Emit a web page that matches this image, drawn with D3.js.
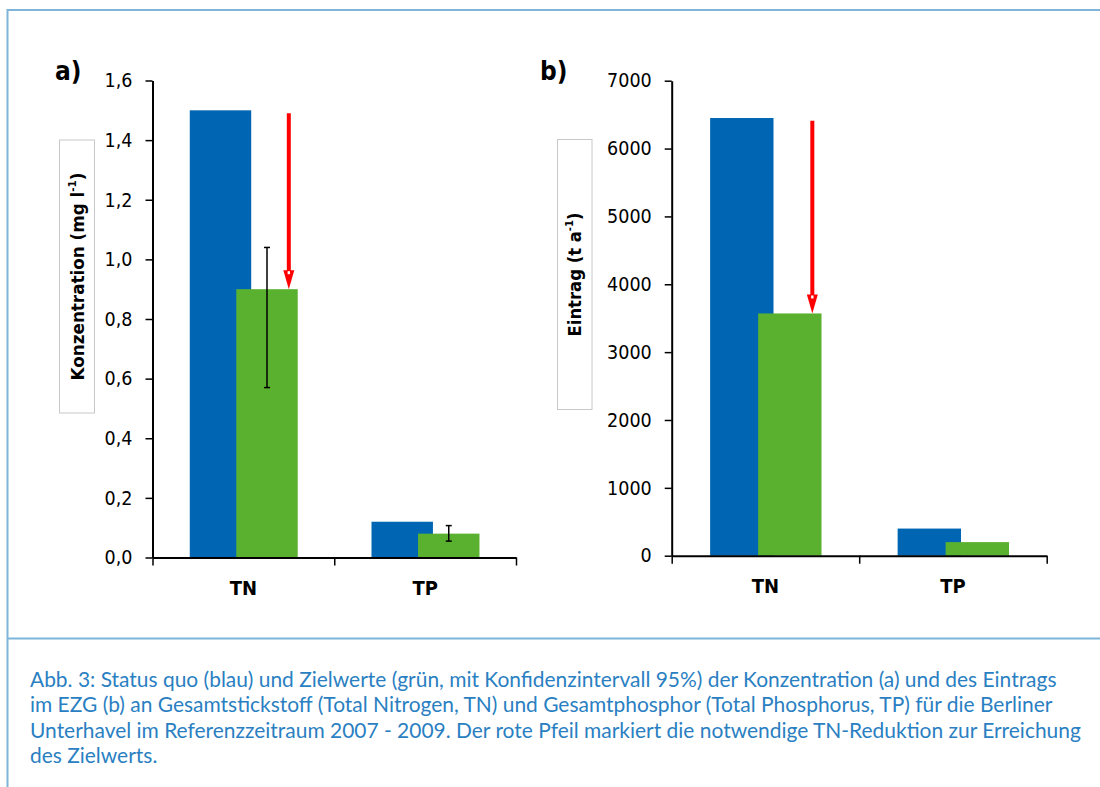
<!DOCTYPE html>
<html>
<head>
<meta charset="utf-8">
<script src="https://cdn.jsdelivr.net/npm/d3@7"></script>
<style>
  html, body { margin: 0; padding: 0; background: #fff; }
  svg { display: block; }
</style>
</head>
<body>
<svg width="1100" height="787"></svg>
<script>
const svg_width = 1100;
const svg_height = 787;

// data
const categories = ["TN", "TP"];
const konz_status = [1.5, 0.12];
const konz_ziel = [0.9, 0.08];
const konz_ci_low = [0.57, 0.055];
const konz_ci_high = [1.04, 0.107];
const konz_ticks = [0, 0.2, 0.4, 0.6, 0.8, 1.0, 1.2, 1.4, 1.6];
const konz_arrow_from = 1.49;

const eintrag_status = [6450, 400];
const eintrag_ziel = [3570, 200];
const eintrag_ticks = [0, 1000, 2000, 3000, 4000, 5000, 6000, 7000];
const eintrag_arrow_from = 6410;

const caption_lines = [
  "Abb. 3: Status quo (blau) und Zielwerte (grün, mit Konfidenzintervall 95%) der Konzentration (a) und des Eintrags",
  "im EZG (b) an Gesamtstickstoff (Total Nitrogen, TN) und Gesamtphosphor (Total Phosphorus, TP) für die Berliner",
  "Unterhavel im Referenzzeitraum 2007 - 2009. Der rote Pfeil markiert die notwendige TN-Reduktion zur Erreichung",
  "des Zielwerts."
];

const blue = "#0066b3";
const green = "#5ab12f";
const red = "#ff0000";
const frame_color = "#7db6da";
const caption_color = "#2a7fc2";
const font = "DejaVu Sans";

const svg = d3.select("svg");

// comma as decimal sign
const de = d3.formatLocale({ decimal: ",", thousands: ".", grouping: [3], currency: ["", "€"] });

// frame round the figure
svg.append("line").attr("x1", 7).attr("x2", svg_width).attr("y1", 10).attr("y2", 10)
  .attr("stroke", frame_color).attr("stroke-width", 2);
svg.append("line").attr("x1", 7.5).attr("x2", 7.5).attr("y1", 9).attr("y2", svg_height)
  .attr("stroke", frame_color).attr("stroke-width", 2);
svg.append("line").attr("x1", 7).attr("x2", svg_width).attr("y1", 638.5).attr("y2", 638.5)
  .attr("stroke", frame_color).attr("stroke-width", 2);

const panels = [
  {
    tag: "a)", tag_x: 55, tag_y: 80,
    left: 152.5, right: 516, bottom: 557.5, top: 80.5,
    max: 1.6, ticks: konz_ticks, fmt: de.format(".1f"),
    status: konz_status, ziel: konz_ziel, ci_low: konz_ci_low, ci_high: konz_ci_high,
    arrow_from: konz_arrow_from,
    label: "Konzentration (mg l", label_sup: "-1", title_len: 208,
    box: { x: 59.5, y: 140, w: 35, h: 273 }
  },
  {
    tag: "b)", tag_x: 540, tag_y: 80,
    left: 671.7, right: 1046.7, bottom: 555.7, top: 80.7,
    max: 7000, ticks: eintrag_ticks, fmt: d3.format("d"),
    status: eintrag_status, ziel: eintrag_ziel, ci_low: null, ci_high: null,
    arrow_from: eintrag_arrow_from,
    label: "Eintrag (t a", label_sup: "-1", title_len: 124,
    box: { x: 557.5, y: 139.5, w: 34.5, h: 270 }
  }
];

panels.forEach(function (p) {
  const g = svg.append("g");

  const y = d3.scaleLinear().domain([0, p.max]).range([p.bottom, p.top]);
  const x = d3.scaleBand().domain(categories).range([p.left, p.right]).padding(0);
  const bw = x.bandwidth();

  // bars overlap like in the spreadsheet original
  const bar_start = 0.205, bar_width = 0.338, green_offset = 0.256;

  g.selectAll(".status").data(categories).enter().append("rect")
    .attr("class", "status")
    .attr("x", (d) => x(d) + bw * bar_start)
    .attr("width", bw * bar_width)
    .attr("y", (d, i) => y(p.status[i]))
    .attr("height", (d, i) => y(0) - y(p.status[i]))
    .attr("fill", blue);

  g.selectAll(".ziel").data(categories).enter().append("rect")
    .attr("class", "ziel")
    .attr("x", (d) => x(d) + bw * (bar_start + green_offset))
    .attr("width", bw * bar_width)
    .attr("y", (d, i) => y(p.ziel[i]))
    .attr("height", (d, i) => y(0) - y(p.ziel[i]))
    .attr("fill", green);

  // confidence interval on the target values
  if (p.ci_low) {
    const cx = (d) => x(d) + bw * (bar_start + green_offset + bar_width / 2);
    const err = g.selectAll(".err").data(categories).enter().append("g").attr("class", "err");
    err.append("line")
      .attr("x1", cx).attr("x2", cx)
      .attr("y1", (d, i) => y(p.ci_low[i])).attr("y2", (d, i) => y(p.ci_high[i]));
    err.append("line")
      .attr("x1", (d) => cx(d) - 3).attr("x2", (d) => cx(d) + 3)
      .attr("y1", (d, i) => y(p.ci_low[i])).attr("y2", (d, i) => y(p.ci_low[i]));
    err.append("line")
      .attr("x1", (d) => cx(d) - 3).attr("x2", (d) => cx(d) + 3)
      .attr("y1", (d, i) => y(p.ci_high[i])).attr("y2", (d, i) => y(p.ci_high[i]));
    err.selectAll("line").attr("stroke", "#000").attr("stroke-width", 1.5);
  }

  // red arrow from status quo down to the TN target
  const ax = x("TN") + bw * 0.75;
  const tip = y(p.ziel[0]);
  const head_h = 19, head_w = 11;
  g.append("line")
    .attr("x1", ax).attr("x2", ax)
    .attr("y1", y(p.arrow_from)).attr("y2", tip - head_h + 1)
    .attr("stroke", red).attr("stroke-width", 4);
  g.append("path")
    .attr("d", `M ${ax - head_w / 2} ${tip - head_h} L ${ax + head_w / 2} ${tip - head_h} L ${ax} ${tip} Z`)
    .attr("fill", red);
  g.append("rect")
    .attr("x", ax - 1.2).attr("y", tip - head_h + 1).attr("width", 2.4).attr("height", 3)
    .attr("fill", "#fff");

  // y axis
  const y_axis = g.append("g")
    .attr("transform", `translate(${p.left},0)`)
    .call(d3.axisLeft(y).tickValues(p.ticks).tickFormat(p.fmt).tickSize(7).tickSizeOuter(0).tickPadding(13));
  y_axis.select(".domain").attr("stroke", "#000").attr("stroke-width", 2);
  y_axis.selectAll(".tick line").attr("stroke", "#000").attr("stroke-width", 1.5);
  y_axis.selectAll(".tick text")
    .style("font-family", font).style("font-stretch", "condensed").style("font-size", "19.5px").attr("fill", "#000");

  // x axis: ticks sit on the category boundaries
  const x_lin = d3.scaleLinear().domain([0, categories.length]).range([p.left, p.right]);
  const x_axis = g.append("g")
    .attr("transform", `translate(0,${p.bottom})`)
    .call(d3.axisBottom(x_lin).tickValues(d3.range(categories.length + 1)).tickFormat("").tickSize(8).tickSizeOuter(0));
  x_axis.select(".domain").attr("stroke", "#000").attr("stroke-width", 2);
  x_axis.selectAll(".tick line").attr("stroke", "#000").attr("stroke-width", 1.5);

  g.selectAll(".cat").data(categories).enter().append("text")
    .attr("class", "cat")
    .attr("x", (d) => x(d) + bw / 2)
    .attr("y", p.bottom + 37)
    .attr("text-anchor", "middle")
    .style("font-family", font).style("font-stretch", "condensed").style("font-weight", "bold").style("font-size", "20px")
    .text((d) => d);

  // panel letter
  g.append("text")
    .attr("x", p.tag_x).attr("y", p.tag_y)
    .style("font-family", font).style("font-stretch", "condensed").style("font-weight", "bold").style("font-size", "26px")
    .text(p.tag);

  // y axis title in its little box
  g.append("rect")
    .attr("x", p.box.x).attr("y", p.box.y).attr("width", p.box.w).attr("height", p.box.h)
    .attr("fill", "#fff").attr("stroke", "#c8c8c8").attr("stroke-width", 1);
  const title = g.append("text")
    .attr("text-anchor", "middle")
    .style("font-family", font).style("font-stretch", "condensed").style("font-weight", "bold").style("font-size", "18px");
  title.append("tspan").text(p.label);
  title.append("tspan").style("font-size", "11px").attr("dy", -8).text(p.label_sup);
  title.append("tspan").attr("dy", 8).text(")");
  // squeeze to the length of the original title
  const natural = title.node().getComputedTextLength();
  title.attr("transform", `translate(${p.box.x + p.box.w / 2 + 6.5},${p.box.y + p.box.h / 2}) rotate(-90) scale(${p.title_len / natural},1)`);
});

// caption, fitted to the width of the original lines
const caption = svg.append("g");
const caption_text = caption.selectAll("text").data(caption_lines).enter().append("text")
  .attr("x", 0)
  .attr("y", (d, i) => 687 + i * 25.3)
  .style("font-family", "Lato, 'Open Sans', sans-serif")
  .style("font-size", "21.5px")
  .attr("fill", caption_color)
  .text((d) => d);
const first_width = caption_text.node().getComputedTextLength();
const sx = 1027 / first_width;
caption.attr("transform", `translate(30,0) scale(${sx},1)`);
</script>
</body>
</html>
